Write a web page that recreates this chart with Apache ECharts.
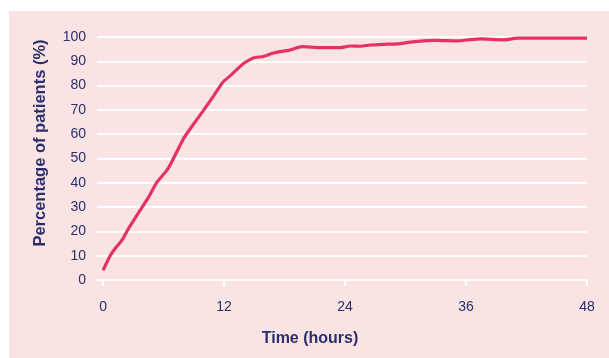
<!DOCTYPE html>
<html>
<head>
<meta charset="utf-8">
<script src="https://cdn.jsdelivr.net/npm/echarts@6/dist/echarts.min.js"></script>
<style>html,body{margin:0;padding:0;background:#fff}#c{width:609px;height:358px}</style>
</head>
<body>
<div id="c"></div>
<script>
var hours = [0, 0.7, 1.2, 1.9, 2.5, 3.5, 4.5, 5.3, 6.3, 6.8, 8.0, 9.0, 10.0, 11.0, 11.9, 12.6, 13.9, 14.9, 15.9, 16.9, 18.5, 19.7, 21.5, 23.5, 24.5, 25.5, 26.5, 27.8, 29.2, 30.7, 33.1, 35.1, 36.4, 37.4, 39.7, 41.1, 48];
var percent = [4, 10, 13, 16.5, 21, 27.5, 34, 40, 45, 48.5, 58.3, 64.3, 70, 76, 81.5, 84, 89, 91.4, 92, 93.4, 94.6, 96, 95.6, 95.6, 96.3, 96.2, 96.7, 97, 97.2, 98, 98.6, 98.4, 98.9, 99.2, 98.8, 99.5, 99.5];
var xTicks = [0, 12, 24, 36, 48];
var xTitle = 'Time (hours)';
var yTitle = 'Percentage of patients (%)';

var navy = '#2b2f6e';
var pts = hours.map(function (h, i) { return [h, percent[i]]; });
var chart = echarts.init(document.getElementById('c'));
chart.setOption({
  backgroundColor: '#ffffff',
  animation: false,
  graphic: [
    { type: 'rect', z: -100, silent: true, shape: { x: 9, y: 11, width: 600, height: 347 }, style: { fill: '#f9e3e3' } },
    { type: 'text', x: 310, y: 339, style: { text: xTitle, fill: navy, font: 'bold 16px "Liberation Sans", Arial, sans-serif', textAlign: 'center', textVerticalAlign: 'middle' } },
    { type: 'text', x: 40, y: 143, rotation: Math.PI / 2, style: { text: yTitle, fill: navy, font: 'bold 16.5px "Liberation Sans", Arial, sans-serif', textAlign: 'center', textVerticalAlign: 'middle' } }
  ],
  grid: { left: 97, right: 22, top: 37, bottom: 78, containLabel: false },
  xAxis: {
    type: 'value', min: -0.6, max: 48,
    axisLine: { show: true, lineStyle: { color: '#ffffff', width: 2 } },
    axisTick: { show: true, customValues: xTicks, length: 6, lineStyle: { color: '#ffffff', width: 2 } },
    axisLabel: { customValues: xTicks, margin: 20, color: navy, fontSize: 14, fontFamily: '"Liberation Sans", Arial, sans-serif' },
    splitLine: { show: false }
  },
  yAxis: {
    type: 'value', min: 0, max: 100, interval: 10,
    axisLine: { show: false }, axisTick: { show: false },
    axisLabel: { margin: 11, color: navy, fontSize: 14, fontFamily: '"Liberation Sans", Arial, sans-serif' },
    splitLine: { show: true, lineStyle: { color: '#ffffff', width: 2 } }
  },
  series: [{
    type: 'line', data: pts, showSymbol: false, smooth: 0.15,
    lineStyle: { color: '#e63262', width: 3.2 }, z: 5
  }]
});
</script>
</body>
</html>
